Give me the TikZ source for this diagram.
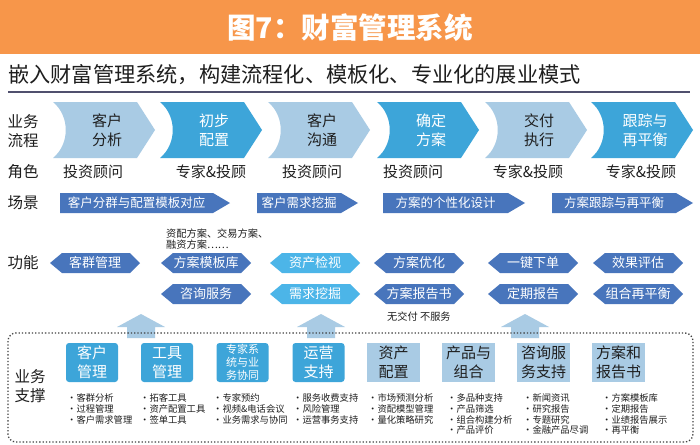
\documentclass[tikz,border=0pt]{standalone}
\usepackage{fontspec}
\setmainfont{Noto Sans CJK SC}
\definecolor{torange}{RGB}{247,150,74}
\definecolor{lblue}{RGB}{169,203,228}
\definecolor{dblue}{RGB}{61,165,217}
\definecolor{navy}{RGB}{72,117,188}
\definecolor{sky}{RGB}{76,181,232}
\definecolor{ink}{RGB}{30,30,30}
\definecolor{rule}{RGB}{80,80,110}
\newcommand\chevr[5]{%
  \fill[#2] (#1,102) -- ++(84,0) -- ++(18,28) -- ++(-18,28) -- ++(-84,0)
    .. controls +(17,-14) and +(17,14) .. ++(0,-56) -- cycle;
  \node[chevtext,text=#3] (#5) at (#1+54,130.5) {#4};}
\newcommand\scen[4]{%
  \fill[navy] (#1,193) -- (#2-17,193) -- (#2,203) -- (#2-17,213) -- (#1,213) -- cycle;
  \node[scentext] (#4) at ({(#1+#2-17)/2},203) {#3};}
\newcommand\hexa[5]{%
  \fill[#3] (#1-45,#2) -- (#1-33,#2-10) -- (#1+35,#2-10) -- (#1+45,#2)
    -- (#1+35,#2+10) -- (#1-33,#2+10) -- cycle;
  \node[hextext] (#5) at (#1,#2) {#4};}
\newcommand\uparr[1]{%
  \fill[lblue] (#1,314) -- (#1+24,327) -- (#1+14,327) -- (#1+14,338)
    -- (#1-14,338) -- (#1-14,327) -- (#1-24,327) -- cycle;}
\begin{document}
\begin{tikzpicture}[x=1pt,y=-1pt,
  chevtext/.style={align=center,font=\fontsize{15}{19}\selectfont,inner sep=0},
  scentext/.style={text=white,font=\fontsize{12.5}{14}\selectfont,inner sep=0},
  hextext/.style={text=white,font=\fontsize{13}{15}\selectfont,inner sep=0},
  rowlabel/.style={text=ink,align=center,font=\fontsize{15.5}{19}\selectfont,inner sep=0},
  roletext/.style={text=ink,font=\fontsize{15}{18}\selectfont,inner sep=0},
  note/.style={text=ink,align=left,font=\fontsize{10.2}{11}\selectfont,inner sep=0},
  supd/.style={fill=dblue,text=white,rounded corners=3pt,minimum width=52pt,minimum height=39pt,inner sep=0,align=center,font=\fontsize{15}{19}\selectfont},
  supl/.style={fill=lblue,text=ink,minimum width=53pt,minimum height=39pt,inner sep=0,align=center,font=\fontsize{15}{19}\selectfont},
  blist/.style={text=ink,align=left,anchor=north west,inner sep=0,font=\fontsize{9.3}{10.8}\selectfont}]
\useasboundingbox (0,0) rectangle (700,444);
\fill[white] (0,0) rectangle (700,444);
% title
\fill[torange] (0,0) rectangle (700,54);
\node[text=white,font=\fontsize{28.5}{31}\selectfont\bfseries,inner sep=0] (title) at (350,28) {图7：财富管理系统};
\node[anchor=west,text=ink,font=\fontsize{21.2}{24}\selectfont,inner sep=0] (sub) at (8,75) {嵌入财富管理系统，构建流程化、模板化、专业化的展业模式};
\draw[rule,line width=1.4pt] (8,92) -- (690,92);
% row labels
\node[rowlabel] (l1) at (23,131) {业务\\流程};
\node[rowlabel] (l2) at (23,172) {角色};
\node[rowlabel] (l3) at (23,203) {场景};
\node[rowlabel] (l4) at (23,263) {功能};
\node[rowlabel] (l5) at (30,386) {业务\\支撑};
% chevrons
\chevr{53}{lblue}{ink}{客户\\分析}{c1}
\chevr{160}{dblue}{white}{初步\\配置}{c2}
\chevr{268}{lblue}{ink}{客户\\沟通}{c3}
\chevr{377}{dblue}{white}{确定\\方案}{c4}
\chevr{485}{lblue}{ink}{交付\\执行}{c5}
\chevr{591}{dblue}{white}{跟踪与\\再平衡}{c6}
% roles
\node[roletext] (r1) at (93,172) {投资顾问};
\node[roletext] (r2) at (211,172) {专家\&投顾};
\node[roletext] (r3) at (312,172) {投资顾问};
\node[roletext] (r4) at (413,172) {投资顾问};
\node[roletext] (r5) at (528,172) {专家\&投顾};
\node[roletext] (r6) at (641,172) {专家\&投顾};
% scenarios
\scen{60}{230}{客户分群与配置模板对应}{s1}
\scen{257}{358}{客户需求挖掘}{s2}
\scen{383}{525}{方案的个性化设计}{s3}
\scen{552}{693}{方案跟踪与再平衡}{s4}
% functions
\hexa{95}{263}{navy}{客群管理}{f1}
\hexa{206}{263}{navy}{方案模板库}{f2}
\hexa{206}{294}{navy}{咨询服务}{f3}
\hexa{315}{263}{sky}{资产检视}{f4}
\hexa{315}{294}{sky}{需求挖掘}{f5}
\hexa{419}{263}{navy}{方案优化}{f6}
\hexa{419}{294}{navy}{方案报告书}{f7}
\hexa{533}{263}{navy}{一键下单}{f8}
\hexa{533}{294}{navy}{定期报告}{f9}
\hexa{638}{263}{navy}{效果评估}{f10}
\hexa{638}{294}{navy}{组合再平衡}{f11}
\node[note,anchor=west] (n1) at (166,239.5) {资配方案、交易方案、\\融资方案……};
\node[note,anchor=west] (n2) at (387,317) {无交付 不服务};
% up arrows
\uparr{141}
\uparr{321}
\uparr{525}
% support frame
\draw[ink!85,dotted,line width=1.3pt,rounded corners=8pt] (8,333) rectangle (693,442);
% support boxes
\node[supd] (b1) at (92,362.5) {客户\\管理};
\node[supd] (b2) at (167,362.5) {工具\\管理};
\node[supd,font=\fontsize{11}{12.8}\selectfont] (b3) at (242.5,362.5) {专家系\\统与业\\务协同};
\node[supd] (b4) at (318.5,362.5) {运营\\支持};
\node[supl] (b5) at (393.5,362.5) {资产\\配置};
\node[supl] (b6) at (468.5,362.5) {产品与\\组合};
\node[supl] (b7) at (543.5,362.5) {咨询服\\务支持};
\node[supl] (b8) at (618.5,362.5) {方案和\\报告书};
% bullet lists
\node[blist] (t1) at (67,393.5) {·客群分析\\·过程管理\\·客户需求管理};
\node[blist] (t2) at (140,393.5) {·拓客工具\\·资产配置工具\\·签单工具};
\node[blist] (t3) at (213,393.5) {·专家预约\\·视频\&电话会议\\·业务需求与协同};
\node[blist] (t4) at (293,393.5) {·服务收费支持\\·风险管理\\·运营事务支持};
\node[blist] (t5) at (368,393.5) {·市场预测分析\\·资配模型管理\\·量化策略研究};
\node[blist] (t6) at (447,393.5) {·多品种支持\\·产品筛选\\·组合构建分析\\·产品评价};
\node[blist] (t7) at (523,393.5) {·新闻资讯\\·研究报告\\·专题研究\\·金融产品尽调};
\node[blist] (t8) at (602,393.5) {·方案模板库\\·定期报告\\·业绩报告展示\\·再平衡};
\end{tikzpicture}
\end{document}
